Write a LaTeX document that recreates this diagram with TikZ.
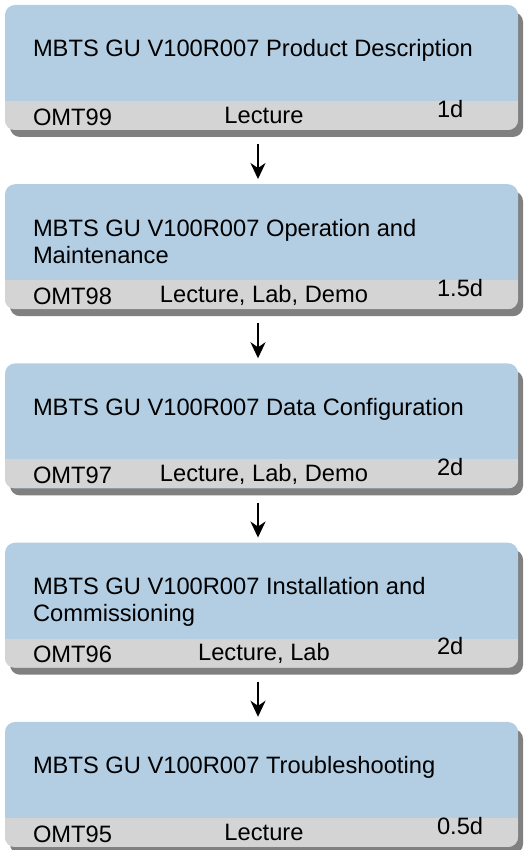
\documentclass[tikz,border=0pt]{standalone}
\usepackage{fontspec}
\setmainfont{Liberation Sans}
\usetikzlibrary{shadows,arrows.meta}
\definecolor{courseblue}{RGB}{179,206,226}
\definecolor{bandgrey}{RGB}{212,212,212}
\definecolor{shadowgrey}{RGB}{128,128,128}
\begin{document}
\begin{tikzpicture}[x=1pt,y=1pt,
    course/.style={rectangle, rounded corners=10pt, minimum width=513pt, minimum height=125pt,
        inner sep=0pt, fill=courseblue,
        drop shadow={shadow xshift=5pt, shadow yshift=-7pt, fill=shadowgrey, opacity=1},
        path picture={\fill[bandgrey, sharp corners] (path picture bounding box.south west) rectangle ([yshift=29pt]path picture bounding box.south east);}},
    txt/.style={inner sep=0pt, font=\fontsize{23.7pt}{27pt}\selectfont},
    title/.style={txt, anchor=base west, align=left},
    code/.style={txt, anchor=base west},
    kind/.style={txt, anchor=base},
    days/.style={txt, anchor=base west},
    flow/.style={-{Stealth[length=16pt,width=15pt,inset=5pt]}, line width=2pt, shorten <=14pt, shorten >=5pt}]
    \useasboundingbox (0,0) rectangle (530,850);

    \node[course] (c1) at (261.5,782.5) {};
    \node[course] (c2) at (261.5,603.25) {};
    \node[course] (c3) at (261.5,424) {};
    \node[course] (c4) at (261.5,244.75) {};
    \node[course] (c5) at (261.5,65.5) {};

    \node[title] (t1) at ([xshift=28pt,yshift=-52pt]c1.north west) {MBTS GU V100R007 Product Description};
    \node[code] (id1) at ([xshift=28pt,yshift=5pt]c1.south west) {OMT99};
    \node[kind] (k1) at ([xshift=2.5pt,yshift=7pt]c1.south) {Lecture};
    \node[days] (d1) at ([xshift=432pt,yshift=13pt]c1.south west) {1d};

    % two lines: base is on the last line
    \node[title] (t2) at ([xshift=28pt,yshift=-79pt]c2.north west) {MBTS GU V100R007 Operation and\\Maintenance};
    \node[code] (id2) at ([xshift=28pt,yshift=5pt]c2.south west) {OMT98};
    \node[kind] (k2) at ([xshift=2.5pt,yshift=7pt]c2.south) {Lecture, Lab, Demo};
    \node[days] (d2) at ([xshift=432pt,yshift=13pt]c2.south west) {1.5d};

    \node[title] (t3) at ([xshift=28pt,yshift=-52pt]c3.north west) {MBTS GU V100R007 Data Configuration};
    \node[code] (id3) at ([xshift=28pt,yshift=5pt]c3.south west) {OMT97};
    \node[kind] (k3) at ([xshift=2.5pt,yshift=7pt]c3.south) {Lecture, Lab, Demo};
    \node[days] (d3) at ([xshift=432pt,yshift=13pt]c3.south west) {2d};

    \node[title] (t4) at ([xshift=28pt,yshift=-79pt]c4.north west) {MBTS GU V100R007 Installation and\\Commissioning};
    \node[code] (id4) at ([xshift=28pt,yshift=5pt]c4.south west) {OMT96};
    \node[kind] (k4) at ([xshift=2.5pt,yshift=7pt]c4.south) {Lecture, Lab};
    \node[days] (d4) at ([xshift=432pt,yshift=13pt]c4.south west) {2d};

    \node[title] (t5) at ([xshift=28pt,yshift=-52pt]c5.north west) {MBTS GU V100R007 Troubleshooting};
    \node[code] (id5) at ([xshift=28pt,yshift=5pt]c5.south west) {OMT95};
    \node[kind] (k5) at ([xshift=2.5pt,yshift=7pt]c5.south) {Lecture};
    \node[days] (d5) at ([xshift=432pt,yshift=13pt]c5.south west) {0.5d};

    \draw[flow] ([xshift=-3.5pt]c1.south) -- ([xshift=-3.5pt]c2.north);
    \draw[flow] ([xshift=-3.5pt]c2.south) -- ([xshift=-3.5pt]c3.north);
    \draw[flow] ([xshift=-3.5pt]c3.south) -- ([xshift=-3.5pt]c4.north);
    \draw[flow] ([xshift=-3.5pt]c4.south) -- ([xshift=-3.5pt]c5.north);
\end{tikzpicture}
\end{document}
